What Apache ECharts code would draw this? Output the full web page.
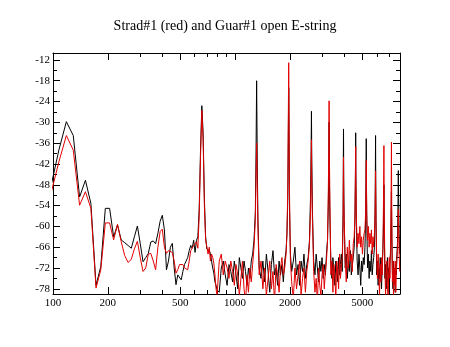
<!DOCTYPE html>
<html>
<head>
<meta charset="utf-8">
<script src="https://cdn.jsdelivr.net/npm/echarts@6/dist/echarts.min.js"></script>
<style>
  html, body { margin: 0; padding: 0; background: #fff; }
  #chart { width: 450px; height: 347px; }
</style>
</head>
<body>
<div id="chart"></div>
<script>
// Spectrum of the open E-string: frequency (Hz) against level (dB)
const titleText = 'Strad#1 (red) and Guar#1 open E-string';

const freqHz = [
  // 97 – 797 Hz, every FFT bin
  96.9, 107.7, 118.4, 129.2, 140.0, 150.7, 161.5, 172.3, 183.0, 193.8,
  204.6, 215.3, 226.1, 236.9, 247.6, 258.4, 269.2, 279.9, 290.7, 301.5,
  312.2, 323.0, 333.8, 344.5, 355.3, 366.1, 376.8, 387.6, 398.4, 409.1,
  419.9, 430.7, 441.4, 452.2, 463.0, 473.7, 484.5, 495.3, 506.0, 516.8,
  527.6, 538.3, 549.1, 559.9, 570.6, 581.4, 592.2, 602.9, 613.7, 624.5,
  635.2, 646.0, 656.8, 667.5, 678.3, 689.1, 699.8, 710.6, 721.4, 732.1,
  742.9, 753.7, 764.4, 775.2, 786.0, 796.7,
  // 818 – 1270 Hz
  818.3, 839.8, 861.3, 882.9, 904.4, 925.9, 947.5, 969.0, 990.5, 1012.1,
  1033.6, 1055.1, 1076.7, 1098.2, 1119.7, 1141.3, 1162.8, 1184.3, 1205.9, 1227.4,
  1248.9, 1270.5,
  // 2nd partial
  1292.0, 1302.8, 1313.5, 1324.3, 1335.1,
  1356.6, 1388.9, 1421.2, 1453.5, 1485.8, 1518.1, 1550.4, 1582.7, 1615.0, 1647.3,
  1679.6, 1711.9, 1744.2, 1776.5, 1808.8, 1841.1, 1873.4, 1905.7, 1927.2,
  // 3rd partial
  1948.8, 1959.5, 1970.3, 1981.1, 1991.8,
  2013.4, 2045.7, 2088.7, 2131.8, 2174.9, 2217.9, 2261.0, 2304.1, 2347.1, 2390.2,
  2433.3, 2476.3, 2519.4, 2562.5,
  // 4th partial
  2594.8, 2616.3, 2627.1, 2637.8, 2659.4,
  2702.4, 2745.5, 2788.5, 2831.6, 2874.7, 2917.7, 2960.8, 3003.9, 3046.9, 3090.0,
  3133.1, 3176.1, 3219.2,
  // 5th partial
  3251.5, 3273.0, 3283.8, 3294.6, 3316.1,
  3359.2, 3402.2, 3445.3, 3488.4, 3531.4, 3574.5, 3617.6, 3660.6, 3703.7, 3746.8,
  3789.8, 3832.9, 3876.0, 3919.0,
  // 6th partial
  3929.8, 3940.6, 3951.3, 3972.9,
  4026.7, 4080.5, 4134.4, 4188.2, 4242.0, 4295.9, 4349.7, 4403.5, 4457.4, 4511.2,
  // 7th partial
  4554.3, 4575.8, 4586.6, 4597.3, 4608.1, 4629.6,
  4683.5, 4737.3, 4791.1, 4845.0, 4898.8, 4952.6, 5006.5, 5060.3, 5114.1, 5168.0,
  // 8th partial
  5211.0, 5232.6, 5243.3, 5254.1, 5264.9, 5286.4,
  5340.2, 5394.1, 5447.9, 5501.7, 5555.6, 5609.4, 5663.2, 5717.1, 5770.9, 5824.7,
  // 9th partial
  5867.8, 5889.3, 5900.1, 5910.9, 5921.6, 5943.2,
  5997.0, 6050.8, 6104.7, 6158.5, 6212.3, 6266.2, 6320.0, 6373.8, 6427.7, 6481.5,
  // 10th partial
  6524.6, 6546.1, 6556.9, 6567.6, 6578.4, 6599.9,
  6653.8, 6707.6, 6761.4, 6815.3, 6869.1, 6922.9, 6976.8, 7030.6, 7084.4, 7138.3,
  // 11th partial
  7181.3, 7202.9, 7213.6, 7224.4, 7235.2, 7256.7,
  7310.5, 7364.4, 7418.2, 7472.0, 7525.9, 7579.7, 7633.5, 7687.4, 7741.2, 7795.0,
  // 12th partial
  7838.1, 7859.6, 7870.4, 7881.1, 7891.9, 7913.4, 7967.3, 8021.1
];

// Guar#1 (black)
const guarDb = [
  -49, -38, -29.8, -33.8, -51.5, -46.7, -53.4, -77, -71.6, -54.8,
  -54.8, -63, -59.6, -63.9, -64.7, -65.5, -66.3, -63, -59.9, -65,
  -70.2, -69, -67.8, -64.5, -64.2, -65, -62, -58.5, -56.8, -61,
  -72.5, -70, -66, -64.9, -72, -76.8, -74, -73.5, -75.4, -73,
  -71, -70.6, -69, -67, -65.5, -66.3, -64, -67.5, -64, -63,
  -55, -38, -25.2, -33, -52, -63, -66.5, -66.5, -67, -67.8,
  -70, -72, -73.5, -76, -77, -78.3,
  -79, -72, -70, -74, -77, -71, -73, -76, -70, -74,
  -78, -69, -72, -75, -70, -73, -77, -72, -75, -70,
  -68, -64,
  -56, -40, -18, -42, -58,
  -72, -75, -70, -76, -68, -73, -79, -71, -67, -74,
  -72, -77, -70, -74, -71, -76, -70, -67, -62,
  -52, -36, -20, -38, -55,
  -68, -73, -70, -66, -74, -71, -77, -70, -73, -68,
  -75, -71, -69, -64,
  -52, -38, -26.8, -40, -55,
  -70, -74, -68, -72, -76, -70, -73, -69, -75, -71,
  -74, -68, -64,
  -54, -42, -30, -44, -57,
  -71, -75, -69, -73, -77, -70, -72, -76, -69, -74,
  -71, -68, -73, -56,
  -44, -31.9, -46, -58,
  -72, -68, -75, -70, -73, -67, -74, -71, -69, -66,
  -58, -48, -41, -33, -45, -57,
  -70, -74, -68, -72, -77, -70, -73, -69, -71, -66,
  -58, -48, -42, -34.7, -46, -58,
  -72, -68, -75, -70, -73, -67, -74, -71, -69, -66,
  -57, -47, -41, -33.8, -45, -58,
  -74, -70, -77, -72, -75, -69, -73, -78, -71, -67,
  -62, -56, -52, -48, -54, -62,
  -75, -71, -78, -73, -69, -76, -72, -79, -70, -68,
  -62, -57, -54, -50, -55, -63,
  -73, -78, -70, -75, -72, -79, -71, -74, -68, -65,
  -56, -50, -46, -43.9, -47, -52, -62, -68
];

// Strad#1 (red)
const stradDb = [
  -51, -41.4, -33.8, -38, -53.9, -50, -54.8, -77.8, -72.5, -59,
  -59, -63.9, -59.4, -64.4, -68.4, -70.4, -69.5, -66.5, -64.3, -69,
  -73, -72, -68, -67.8, -70, -72.5, -66, -61.5, -60.8, -66,
  -67.8, -67, -67, -67.5, -70, -73.5, -72.5, -71, -70.6, -71,
  -72, -72.5, -72.5, -70, -67, -66.7, -65.5, -66, -64.5, -66.3,
  -57, -40, -26.6, -35, -54, -64, -65.9, -68, -66, -70,
  -68, -69, -70.6, -74, -78, -80,
  -70, -68, -74, -70, -72, -75, -70, -73, -77, -71,
  -74, -80, -75, -70, -78, -82, -74, -79, -72, -76,
  -71, -66,
  -58, -47, -36, -48, -60,
  -74, -70, -78, -72, -80, -75, -70, -78, -73, -82,
  -71, -74, -79, -72, -69, -74, -72, -68, -62,
  -48, -30, -12.8, -32, -52,
  -70, -76, -81, -72, -78, -74, -70, -80, -75, -72,
  -79, -73, -70, -65,
  -56, -45, -35, -47, -58,
  -73, -79, -75, -82, -72, -77, -80, -74, -71, -78,
  -73, -70, -64,
  -50, -36, -23.8, -38, -52,
  -74, -70, -79, -71, -74, -81, -70, -73, -78, -68,
  -75, -72, -69, -60,
  -50, -40, -52, -58,
  -70, -76, -66, -72, -64, -70, -68, -73, -65, -63,
  -56, -48, -43, -37, -46, -56,
  -66, -62, -65, -60, -66, -63, -68, -64, -62, -61,
  -56, -50, -46, -41, -48, -56,
  -64, -60, -66, -62, -65, -61, -68, -63, -66, -62,
  -58, -53, -49, -44, -50, -58,
  -70, -75, -68, -73, -80, -71, -76, -69, -74, -66,
  -56, -48, -43, -36.7, -45, -57,
  -72, -80, -74, -70, -77, -82, -73, -69, -75, -66,
  -55, -47, -42, -35.7, -44, -56,
  -76, -70, -81, -72, -77, -70, -79, -73, -69, -67,
  -62, -59, -57, -55, -57, -60, -68, -73
];

// Axis ticks and labels
const freqLabels = [100, 200, 500, 1000, 2000, 5000];
const freqMinor = [300, 400, 600, 700, 800, 900, 3000, 4000, 6000, 7000];
const dbLabels = [-12, -18, -24, -30, -36, -42, -48, -54, -60, -66, -72, -78];
const dbMinor = [-15, -21, -27, -33, -39, -45, -51, -57, -63, -69, -75];

const FONT = 'Liberation Serif';
const INK = '#000';

function freqAxis(position, ticks, len, withLine, withLabels) {
  return {
    type: 'log', logBase: 10, min: 100, max: 8050, position: position,
    axisLine: { show: withLine, onZero: false, lineStyle: { color: INK, width: 1 } },
    axisTick: { show: true, inside: true, length: len, customValues: ticks,
                lineStyle: { color: INK, width: 1 } },
    minorTick: { show: false },
    splitLine: { show: false },
    axisLabel: withLabels ? {
      show: true, customValues: ticks, margin: 4,
      formatter: v => String(Math.round(v)),
      fontFamily: FONT, fontSize: 11, color: INK
    } : { show: false }
  };
}

function dbAxis(position, ticks, len, withLine, withLabels) {
  return {
    type: 'value', min: -79.5, max: -10, position: position,
    axisLine: { show: withLine, onZero: false, lineStyle: { color: INK, width: 1 } },
    axisTick: { show: true, inside: true, length: len, customValues: ticks,
                lineStyle: { color: INK, width: 1 } },
    minorTick: { show: false },
    splitLine: { show: false },
    axisLabel: withLabels ? {
      show: true, customValues: ticks, margin: 3,
      formatter: v => String(v),
      fontFamily: FONT, fontSize: 11, color: INK
    } : { show: false }
  };
}

const guarPoints = freqHz.map((f, i) => [f, guarDb[i]]);
const stradPoints = freqHz.map((f, i) => [f, stradDb[i]]);

const chart = echarts.init(document.getElementById('chart'), null, { renderer: 'canvas' });
chart.setOption({
  animation: false,
  backgroundColor: '#fff',
  title: {
    text: titleText, left: 'center', top: 14,
    textStyle: { fontFamily: FONT, fontSize: 14, fontWeight: 'normal', color: INK }
  },
  grid: { left: 53, right: 50, top: 53, bottom: 53, containLabel: false, outerBoundsMode: 'none' },
  xAxis: [
    freqAxis('bottom', freqLabels, 7, true, true),
    freqAxis('bottom', freqMinor, 4, false, false),
    freqAxis('top', freqLabels, 7, true, false),
    freqAxis('top', freqMinor, 4, false, false)
  ],
  yAxis: [
    dbAxis('left', dbLabels, 7, true, true),
    dbAxis('left', dbMinor, 4, false, false),
    dbAxis('right', dbLabels, 7, true, false),
    dbAxis('right', dbMinor, 4, false, false)
  ],
  series: [
    {
      name: 'Guar#1', type: 'line', data: guarPoints, xAxisIndex: 0, yAxisIndex: 0,
      showSymbol: false, clip: true,
      lineStyle: { color: '#000', width: 1 }
    },
    {
      name: 'Strad#1', type: 'line', data: stradPoints, xAxisIndex: 0, yAxisIndex: 0,
      showSymbol: false, clip: true,
      lineStyle: { color: '#e00000', width: 1 }
    }
  ]
});
</script>
</body>
</html>
